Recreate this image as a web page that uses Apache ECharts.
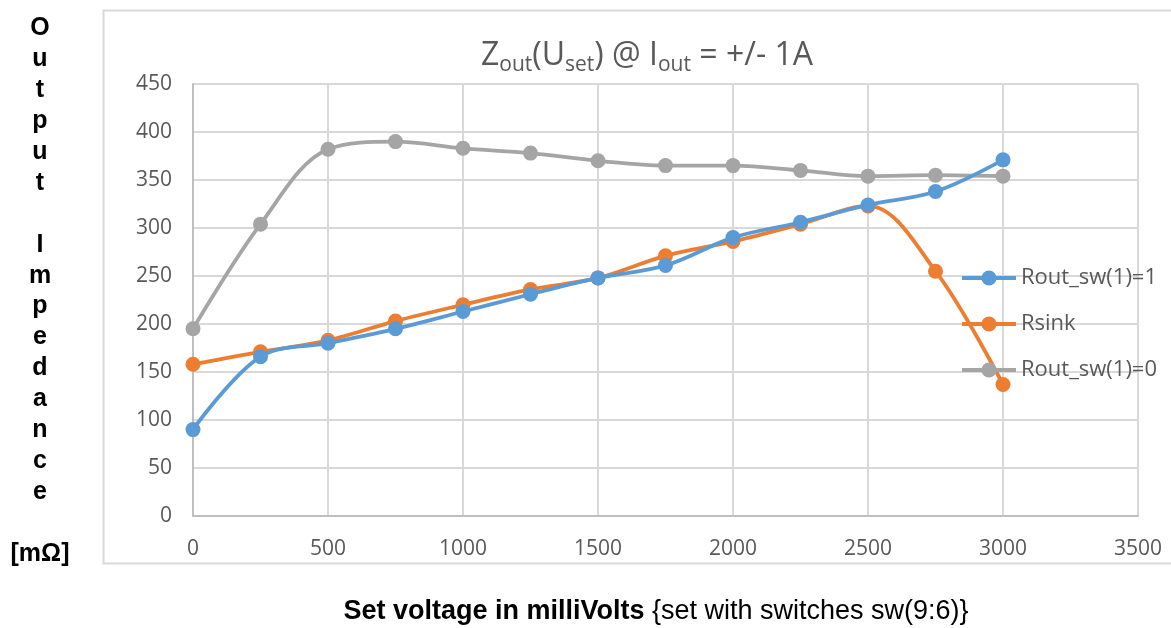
<!DOCTYPE html>
<html>
<head>
<meta charset="utf-8">
<script src="https://cdn.jsdelivr.net/npm/echarts@6/dist/echarts.min.js"></script>
<style>
  html, body { margin: 0; padding: 0; background: #ffffff; }
  #chart { width: 1171px; height: 628px; }
</style>
</head>
<body>
<div id="chart"></div>
<script>
// Set voltage (mV) on the x axis
const setVoltage = [0, 250, 500, 750, 1000, 1250, 1500, 1750, 2000, 2250, 2500, 2750, 3000];

// Output impedance in mΩ for each setting
const routSw1On  = [90, 166, 180, 195, 213, 231, 248, 261, 290, 306, 324, 338, 371];
const rSink      = [158, 171, 183, 203, 220, 236, 248, 271, 286, 304, 323, 255, 137];
const routSw1Off = [195, 304, 382, 390, 383, 378, 370, 365, 365, 360, 354, 355, 354];

const seriesNames = ['Rout_sw(1)=1', 'Rsink', 'Rout_sw(1)=0'];
const seriesColors = ['#5B9BD5', '#ED7D31', '#A5A5A5'];
const seriesValues = [routSw1On, rSink, routSw1Off];

const yAxisTitle = 'O\nu\nt\np\nu\nt\n\nI\nm\np\ne\nd\na\nn\nc\ne\n\n[mΩ]';

const pairs = vals => setVoltage.map((x, i) => [x, vals[i]]);

const chart = echarts.init(document.getElementById('chart'), null, { renderer: 'canvas' });

const labelFont = '"Open Sans", "Liberation Sans", sans-serif';

chart.setOption({
  animation: false,
  backgroundColor: '#ffffff',
  title: {
    text: 'Z{sub|out}(U{sub|set}) @ I{sub|out} = +/- 1A',
    left: 642,
    textAlign: 'center',
    top: 31,
    textStyle: {
      fontFamily: labelFont,
      fontSize: 32,
      fontWeight: 'normal',
      color: '#595959',
      lineHeight: 40,
      rich: {
        sub: {
          fontFamily: labelFont,
          fontSize: 21,
          color: '#595959',
          lineHeight: 21,
          padding: [16, 0, 0, 0],
          verticalAlign: 'bottom'
        }
      }
    }
  },
  legend: {
    orient: 'vertical',
    left: 960,
    top: 267,
    padding: 0,
    itemWidth: 54,
    itemHeight: 19,
    itemGap: 24,
    data: seriesNames,
    lineStyle: { width: 4 },
    textStyle: { fontFamily: labelFont, fontSize: 22, color: '#595959' }
  },
  grid: { left: 193, right: 33, top: 84, bottom: 112, containLabel: false },
  xAxis: {
    type: 'value',
    min: 0,
    max: 3500,
    interval: 500,
    axisLine: { show: true, lineStyle: { color: '#bfbfbf', width: 2 } },
    axisTick: { show: false },
    axisLabel: {
      margin: 23,
      fontFamily: labelFont,
      fontSize: 21,
      color: '#595959',
      formatter: v => String(v)
    },
    splitLine: { show: true, lineStyle: { color: '#d9d9d9', width: 2 } }
  },
  yAxis: {
    type: 'value',
    min: 0,
    max: 450,
    interval: 50,
    axisLine: { show: true, lineStyle: { color: '#bfbfbf', width: 2 } },
    axisTick: { show: false },
    axisLabel: {
      margin: 21,
      fontFamily: labelFont,
      fontSize: 21,
      color: '#595959',
      formatter: v => String(v)
    },
    splitLine: { show: true, lineStyle: { color: '#d9d9d9', width: 2 } }
  },
  graphic: [
    {
      type: 'rect',
      silent: true,
      z: -10,
      shape: { x: 103.5, y: 10.5, width: 1100, height: 553 },
      style: { fill: 'none', stroke: '#d9d9d9', lineWidth: 2 }
    },
    {
      type: 'text',
      x: 40,
      y: 13,
      style: {
        text: yAxisTitle,
        align: 'center',
        verticalAlign: 'top',
        font: 'bold 25px "Liberation Sans", Arial, sans-serif',
        lineHeight: 30.9,
        fill: '#000000'
      }
    },
    {
      type: 'text',
      x: 656,
      y: 612,
      style: {
        text: '{b|Set voltage in milliVolts} {set with switches sw(9:6)}',
        align: 'center',
        verticalAlign: 'middle',
        font: '27px "Liberation Sans", Arial, sans-serif',
        fill: '#000000',
        rich: {
          b: { font: 'bold 27px "Liberation Sans", Arial, sans-serif', fill: '#000000' }
        }
      }
    }
  ],
  series: seriesNames.map((name, i) => ({
    name: name,
    type: 'line',
    smooth: 0.35,
    data: pairs(seriesValues[i]),
    symbol: 'circle',
    symbolSize: 15,
    lineStyle: { color: seriesColors[i], width: 3.8 },
    itemStyle: { color: seriesColors[i] },
    z: 3 - i
  }))
});
</script>
</body>
</html>
